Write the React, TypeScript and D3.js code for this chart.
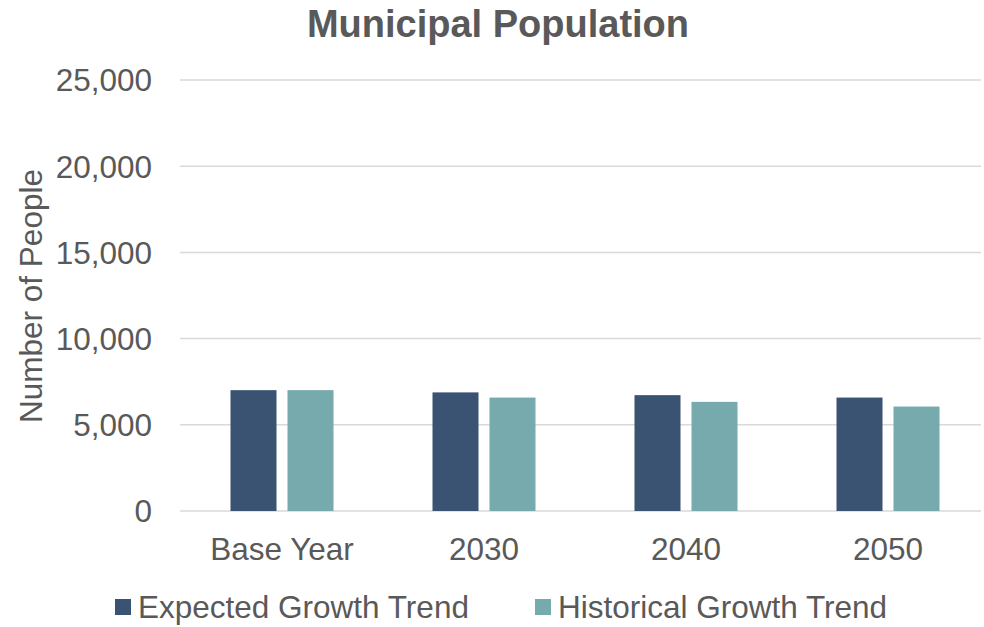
import React from "react";
import * as d3 from "d3";

const categories = ["Base Year", "2030", "2040", "2050"];
const expected = [7010, 6880, 6720, 6580];
const historical = [7010, 6580, 6330, 6060];
const yTicks = [0, 5000, 10000, 15000, 20000, 25000];
const seriesNames = ["Expected Growth Trend", "Historical Growth Trend"];
const colors = ["#3A5373", "#76AAAD"];

export default function App() {
  const W = 984, H = 627;
  const x = d3.scaleBand<string>().domain(categories).range([181, 989]);
  const y = d3.scaleLinear().domain([0, 25000]).range([511, 80]);
  const fmt = d3.format(",");
  const barW = 46, gap = 11;
  const font = "'Liberation Sans', Arial, sans-serif";
  const textColor = "#595959";
  const series = [expected, historical];
  return (
    <svg width={W} height={H} style={{ position: "absolute", left: 0, top: 0 }} fontFamily={font}>
      <rect width={W} height={H} fill="#fff" />
      <text x={498} y={37} textAnchor="middle" fontSize={38} fontWeight="bold" fill={textColor}>Municipal Population</text>
      {yTicks.map(t => (
        <g key={t}>
          <line x1={180} x2={981} y1={y(t)} y2={y(t)} stroke="#D9D9D9" strokeWidth={1.5} />
          <text x={152} y={y(t)} dy="0.36em" textAnchor="end" fontSize={31.5} fill={textColor}>{fmt(t)}</text>
        </g>
      ))}
      <text transform={`translate(42,296) rotate(-90)`} textAnchor="middle" fontSize={31.5} fill={textColor}>Number of People</text>
      {categories.map((c, i) => {
        const cx = (x(c) as number) + x.bandwidth() / 2;
        return (
          <g key={c}>
            {series.map((s, k) => {
              const bx = k === 0 ? cx - gap / 2 - barW : cx + gap / 2;
              return <rect key={k} x={bx} y={y(s[i])} width={barW} height={y(0) - y(s[i])} fill={colors[k]} />;
            })}
            <text x={cx} y={560} textAnchor="middle" fontSize={31.5} fill={textColor}>{c}</text>
          </g>
        );
      })}
      {seriesNames.map((n, k) => {
        const lx = k === 0 ? 115 : 535;
        return (
          <g key={n}>
            <rect x={lx} y={599} width={16} height={16} fill={colors[k]} />
            <text x={lx + 23} y={618} fontSize={31.5} fill={textColor}>{n}</text>
          </g>
        );
      })}
    </svg>
  );
}
